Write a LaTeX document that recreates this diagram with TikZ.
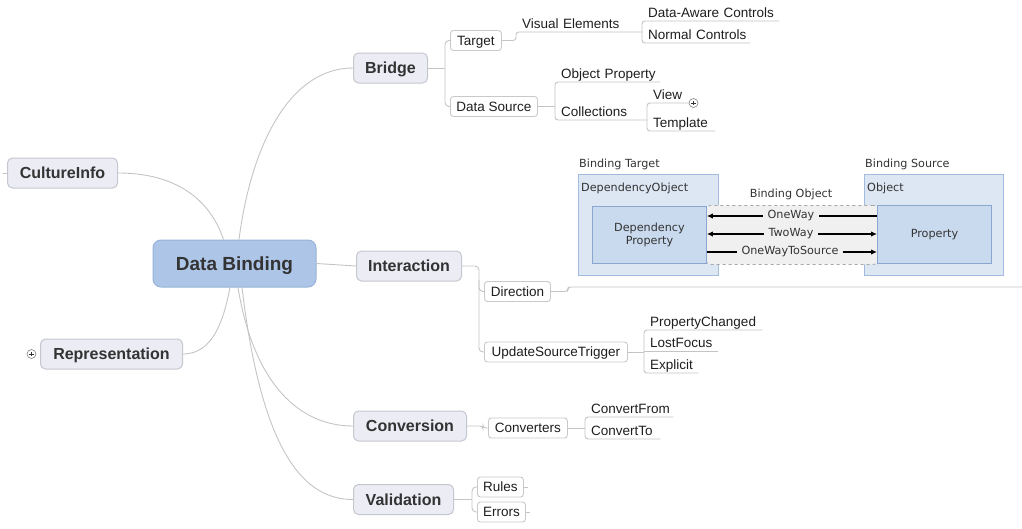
\documentclass[tikz,border=0pt]{standalone}
\usepackage{fontspec}
\setmainfont{Liberation Sans}
\newfontfamily\imgfont{DejaVu Sans}
\usetikzlibrary{arrows.meta,calc}
\definecolor{connc}{HTML}{C4C4C4}
\definecolor{rootf}{HTML}{ADC6E8}
\definecolor{rootd}{HTML}{98B3DA}
\definecolor{topicf}{HTML}{EBECF4}
\definecolor{topicd}{HTML}{C5C7D0}
\definecolor{topictext}{HTML}{333333}
\definecolor{subd}{HTML}{C9C9C9}
\definecolor{leaftext}{HTML}{1E1E1E}
\definecolor{outerf}{HTML}{DCE7F3}
\definecolor{outerd}{HTML}{A3BBDC}
\definecolor{innerf}{HTML}{C9DAEE}
\definecolor{innerd}{HTML}{8AA7D0}
\definecolor{bof}{HTML}{F0F0F0}
\definecolor{bod}{HTML}{A8A8A8}
\definecolor{imgtext}{HTML}{333333}
\newcommand\leaffont{\fontsize{13.5}{16}\selectfont\hyphenpenalty=10000\exhyphenpenalty=10000}
\newcommand\imgsize{\imgfont\fontsize{11.2}{13.5}\selectfont}
\begin{document}
\begin{tikzpicture}[x=1pt,y=-1pt,
 conn/.style={draw=connc,line width=0.9pt},
 rootbox/.style={draw=rootd,fill=rootf,rounded corners=8pt,line width=1pt,font=\fontsize{19}{22}\selectfont\bfseries,text=topictext,minimum width=163pt,minimum height=47pt,inner sep=0pt,text height=13.6pt,text depth=0pt},
 topic/.style={draw=topicd,fill=topicf,rounded corners=5pt,line width=1pt,font=\fontsize{16}{19}\selectfont\bfseries,text=topictext,minimum height=30pt,inner sep=0pt,anchor=west,text height=11.5pt,text depth=0pt},
 subbox/.style={draw=subd,fill=white,rounded corners=3pt,line width=0.9pt,font=\leaffont,text=leaftext,minimum height=20pt,inner sep=0pt,anchor=west,text height=10pt,text depth=1pt},
 leaf/.style={anchor=south west,inner xsep=6pt,inner ysep=1.5pt,text height=10pt,text depth=1.5pt,font=\leaffont,text=leaftext,align=left},
 outerbox/.style={draw=outerd,fill=outerf,line width=0.9pt,anchor=north west,inner sep=0pt},
 innerbox/.style={draw=innerd,fill=innerf,line width=0.9pt,anchor=north west,inner sep=0pt,font=\imgsize,text=imgtext,align=center},
 imglabel/.style={font=\imgsize,text=imgtext,anchor=west,inner sep=0pt},
 arrlabel/.style={font=\imgsize,text=imgtext,fill=bof,inner xsep=5pt,inner ysep=1pt},
 imgarrow/.style={draw=black,line width=1.3pt},
 tip/.style={-{Latex[length=6pt,width=5.5pt]}},
 tips/.style={{Latex[length=6pt,width=5.5pt]}-{Latex[length=6pt,width=5.5pt]}},
 plusc/.style={circle,draw=gray,fill=white,line width=0.6pt,minimum size=9pt,inner sep=0pt},
]
\useasboundingbox (0,0) rectangle (1022,528);

% ---------- embedded image (Direction) ----------
\node[outerbox,minimum width=140pt,minimum height=101pt] (bt) at (578,174) {};
\node[outerbox,minimum width=139pt,minimum height=101pt] (bs) at (864,174) {};
\node[draw=bod,fill=bof,dashed,rounded corners=7pt,line width=0.8pt,anchor=north west,minimum width=176pt,minimum height=59pt,inner sep=0pt] (bo) at (704,205) {};
\node[innerbox,minimum width=114pt,minimum height=57pt] (ipl) at (592,206) {Dependency\\Property};
\node[innerbox,minimum width=114pt,minimum height=58pt] (ipr) at (877,205) {Property};
\node[imglabel] (btl) at (579,164) {Binding Target};
\node[imglabel] (bsl) at (865,164) {Binding Source};
\node[imglabel] (dol) at (581,188) {DependencyObject};
\node[imglabel] (obl) at (867,188) {Object};
\node[font=\imgsize,text=imgtext,inner sep=0pt] (bol) at (791,194) {Binding Object};
\coordinate (ow) at (0,216);
\coordinate (tw) at (0,234);
\coordinate (ots) at (0,252);
\draw[imgarrow,tip] (ipr.west |- ow) -- (ipl.east |- ow);
\draw[imgarrow,tips] (ipl.east |- tw) -- (ipr.west |- tw);
\draw[imgarrow,tip] (ipl.east |- ots) -- (ipr.west |- ots);
\node[arrlabel] (owl) at (791,216) {OneWay};
\node[arrlabel] (twl) at (791,234) {TwoWay};
\node[arrlabel] (otsl) at (790,252) {OneWayToSource};

% ---------- mind map nodes ----------
\node[rootbox] (root) at (234.5,263.5) {Data Binding};
\node[topic,minimum width=110pt] (culture) at (7,173) {CultureInfo};
\node[topic,minimum width=142pt] (repr) at (40,354) {Representation};
\node[topic,minimum width=74pt] (bridge) at (353,68) {Bridge};
\node[topic,minimum width=105pt] (inter) at (356,266) {Interaction};
\node[topic,minimum width=113pt] (conv) at (353,426) {Conversion};
\node[topic,minimum width=100pt] (valid) at (353,499.5) {Validation};

\node[subbox,minimum width=51pt] (target) at (450,40.5) {Target};
\node[subbox,minimum width=87pt] (dsrc) at (450,106.5) {Data Source};
\node[subbox,minimum width=66pt] (dir) at (484,291.5) {Direction};
\node[subbox,minimum width=143pt] (ust) at (484,352) {UpdateSourceTrigger};
\node[subbox,minimum width=79pt] (cvt) at (488,428) {Converters};
\node[subbox,minimum width=46pt] (rules) at (477,487) {Rules};
\node[subbox,minimum width=48pt] (errors) at (477,512) {Errors};

\node[leaf,text width=114pt] (ve) at (516,32) {\mbox{Visual Elements}};
\node[leaf,text width=125pt] (dac) at (642,21) {\mbox{Data-Aware Controls}};
\node[leaf,text width=96pt] (nc) at (642,43) {\mbox{Normal Controls}};
\node[leaf,text width=93pt] (op) at (555,82) {\mbox{Object Property}};
\node[leaf,text width=80pt] (col) at (555,120) {\mbox{Collections}};
\node[leaf,text width=30pt] (view) at (647,103) {\mbox{View}};
\node[leaf,text width=56pt] (tmpl) at (647,131) {\mbox{Template}};
\node[leaf,text width=106pt] (pc) at (644,330) {\mbox{PropertyChanged}};
\node[leaf,text width=62pt] (lf) at (644,351) {\mbox{LostFocus}};
\node[leaf,text width=42pt] (ex) at (644,373) {\mbox{Explicit}};
\node[leaf,text width=76pt] (cf) at (585,417) {\mbox{ConvertFrom}};
\node[leaf,text width=63pt] (ct) at (585,439) {\mbox{ConvertTo}};
\node[plusc] (vplus) at (693.5,103) {};
\node[plusc] (rplus) at (31.5,354) {};
\draw[line width=0.7pt,black!80] ($(vplus)+(-2.3,0)$) -- ($(vplus)+(2.3,0)$) ($(vplus)+(0,-2.3)$) -- ($(vplus)+(0,2.3)$);
\draw[line width=0.7pt,black!80] ($(rplus)+(-2.3,0)$) -- ($(rplus)+(2.3,0)$) ($(rplus)+(0,-2.3)$) -- ($(rplus)+(0,2.3)$);

% ---------- connectors from root ----------
\draw[conn] ($(root.north)+(4.5,0)$) .. controls (252,140) and (292,68) .. (bridge.west);
\draw[conn] (culture.east) .. controls (182,173) and (212,205) .. ($(root.north)+(-11,0)$);
\draw[conn] (repr.east) .. controls (214,354) and (224,318) .. ($(root.south)+(-4.5,0)$);
\draw[conn] (root.east) -- (inter.west);
\draw[conn] ($(root.south)+(3.5,0)$) .. controls (254,385) and (300,426) .. (conv.west);
\draw[conn] ($(root.south)+(7.5,0)$) .. controls (262,455) and (305,499.5) .. (valid.west);
\draw[conn] (culture.west) -- ++(-4,0);

% ---------- Bridge branch ----------
\coordinate (bb) at ($(bridge.east)+(17,0)$);
\draw[conn] (bridge.east) -- (bb);
\draw[conn,rounded corners=4pt] (target.west) -| (bb) |- (dsrc.west);
\draw[conn,rounded corners=3pt] (target.east) -| (ve.south west) -- (ve.south east);
\draw[conn,rounded corners=3pt] (dac.south east) -- (dac.south west) -- (nc.south west) -- (nc.south east);
\draw[conn] (dsrc.east) -- (dsrc.east -| op.south west);
\draw[conn,rounded corners=3pt] (op.south east) -- (op.south west) -- (col.south west) -- (col.south east);
\draw[conn,rounded corners=3pt] (view.south east) -- (view.south west) -- (tmpl.south west) -- (tmpl.south east);

% ---------- Interaction branch ----------
\coordinate (ib) at (479,320);
\draw[conn,rounded corners=4pt] (inter.east) -| (ib) |- (ust.west);
\draw[conn,rounded corners=4pt] (479,280) |- (dir.west);
\coordinate (dirend) at (1022,287);
\draw[conn,rounded corners=3pt] (dir.east) -- ($(dir.east)+(17,0)$) |- (dirend);
\draw[conn] (ust.east) -- (ust.east -| pc.south west);
\draw[conn,rounded corners=3pt] (pc.south east) -- (pc.south west) -- (ex.south west) -- (ex.south east);
\draw[conn] (lf.south west) -- (lf.south east);

% ---------- Conversion branch ----------
\draw[conn,rounded corners=3pt] (conv.east) -- ($(conv.east)+(16,0)$) |- (cvt.west);
\draw[conn] (cvt.east) -- (cvt.east -| cf.south west);
\draw[conn,rounded corners=3pt] (cf.south east) -- (cf.south west) -- (ct.south west) -- (ct.south east);

% ---------- Validation branch ----------
\coordinate (vb) at ($(valid.east)+(18,0)$);
\draw[conn] (valid.east) -- (vb);
\draw[conn,rounded corners=4pt] (rules.west) -| (vb) |- (errors.west);
\draw[conn] (rules.east) -- ++(4,0);
\draw[conn] (errors.east) -- ++(4,0);
\end{tikzpicture}
\end{document}
